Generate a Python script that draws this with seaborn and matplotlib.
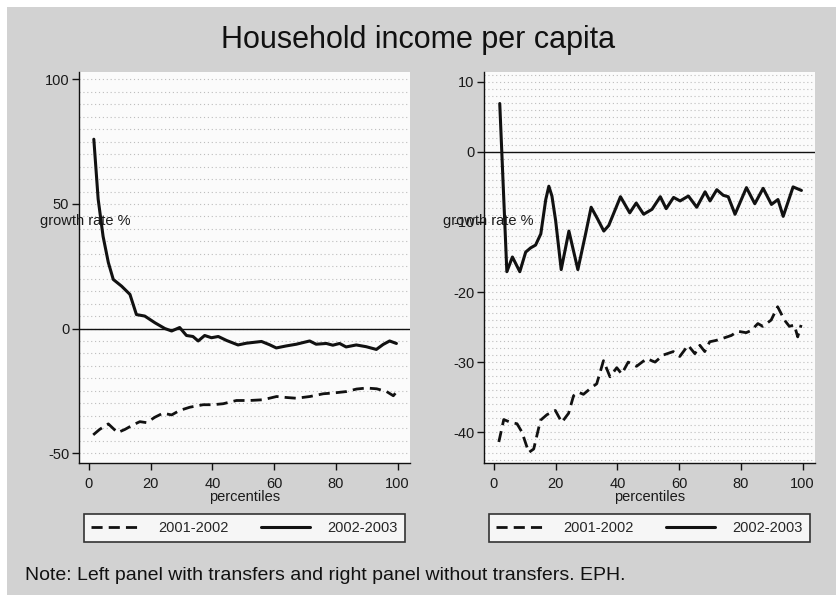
import numpy as np
import pandas as pd
import matplotlib
matplotlib.use("Agg")
import matplotlib.pyplot as plt
from matplotlib.patches import Rectangle
from matplotlib.lines import Line2D
from matplotlib.ticker import MultipleLocator
import seaborn as sns

sns.set_theme(style="white")
plt.rcParams["font.family"] = ["Liberation Sans", "DejaVu Sans"]
plt.rcParams["axes.unicode_minus"] = False

# ---------------- data ----------------
title = "Household income per capita"
series_names = ["2001-2002", "2002-2003"]
note = "Note: Left panel with transfers and right panel without transfers. EPH."
xlabel = "percentiles"
ylabel = "growth rate %"
x_ticks = [0, 20, 40, 60, 80, 100]
left_yticks = [-50, 0, 50, 100]
right_yticks = [-40, -30, -20, -10, 0, 10]

# Left panel (with transfers)
left_0102_x = [1.4, 3.5, 6.3, 9.3, 11.7, 14.3, 16.5, 18.7, 21.4, 24.0, 26.8, 29.4, 32.7,
               37.0, 40.2, 43.5, 47.8, 52.1, 56.4, 60.8, 64.0, 67.2, 71.6, 75.9, 79.1,
               83.5, 86.7, 89.9, 93.2, 96.4, 98.6, 100.0]
left_0102_y = [-42.7, -40.5, -38.3, -41.8, -40.5, -38.7, -37.4, -37.8, -35.6, -34.0, -34.7,
               -32.9, -31.6, -30.6, -30.6, -30.2, -28.9, -28.9, -28.6, -27.3, -27.7, -28.0,
               -27.3, -26.2, -25.9, -25.3, -24.3, -23.9, -24.2, -25.3, -27.0, -24.9]

left_0203_x = [1.6, 3.0, 4.6, 6.3, 7.9, 10.6, 13.3, 15.4, 18.1, 21.4, 24.6, 26.8, 29.4,
               31.6, 33.7, 35.4, 37.5, 39.7, 41.9, 44.6, 48.3, 51.0, 55.9, 58.5, 60.7,
               63.9, 67.2, 71.5, 73.6, 76.9, 79.0, 81.2, 83.3, 86.6, 89.8, 93.1, 95.3,
               97.4, 99.6]
left_0203_y = [76.0, 52.0, 37.0, 26.5, 19.7, 17.0, 13.7, 5.6, 5.0, 2.3, 0.0, -1.0, 0.4,
               -2.8, -3.2, -5.0, -2.8, -3.7, -3.2, -4.8, -6.6, -5.9, -5.2, -6.5, -7.8,
               -7.0, -6.3, -5.0, -6.3, -6.0, -6.7, -6.0, -7.4, -6.6, -7.3, -8.4, -6.4,
               -5.0, -6.0]

# Right panel (without transfers)
right_0102_x = [1.6, 3.2, 5.4, 7.5, 9.1, 11.3, 12.9, 15.1, 17.2, 19.9, 22.0, 24.2, 25.8,
                27.4, 29.0, 31.7, 33.3, 35.5, 37.6, 39.8, 41.4, 43.5, 46.2, 49.5, 52.2,
                54.8, 58.1, 60.2, 62.9, 65.1, 66.7, 68.3, 69.9, 72.0, 74.2, 76.9, 79.0,
                81.7, 83.3, 85.5, 87.1, 89.8, 91.9, 94.1, 95.7, 97.3, 98.4, 99.5]
right_0102_y = [-41.4, -38.2, -38.6, -38.8, -40.0, -42.9, -42.4, -38.3, -37.5, -36.9,
                -38.6, -37.3, -34.8, -34.3, -34.6, -33.6, -33.1, -29.8, -32.1, -30.8,
                -31.7, -30.0, -30.6, -29.5, -30.0, -29.0, -28.5, -29.2, -27.6, -28.8,
                -27.6, -28.5, -27.1, -26.9, -26.6, -26.2, -25.6, -25.8, -25.5, -24.5,
                -24.9, -24.0, -22.1, -24.0, -24.9, -24.7, -26.4, -24.7]

right_0203_x = [1.9, 4.2, 6.0, 8.4, 10.3, 11.9, 13.5, 15.2, 16.8, 17.8, 18.8, 20.0, 21.8,
                24.3, 27.2, 29.7, 31.5, 33.5, 35.6, 37.2, 41.0, 44.0, 46.1, 48.5, 51.2,
                53.9, 55.8, 58.2, 60.3, 63.0, 65.7, 68.4, 70.0, 72.2, 74.3, 75.9, 78.1,
                81.8, 84.5, 87.2, 89.9, 92.0, 93.7, 96.9, 99.6]
right_0203_y = [6.9, -17.1, -15.0, -17.1, -14.3, -13.7, -13.3, -11.7, -6.8, -4.9, -6.3,
                -9.8, -16.8, -11.3, -16.8, -11.7, -7.9, -9.5, -11.3, -10.5, -6.4, -8.7,
                -7.3, -8.9, -8.2, -6.4, -8.1, -6.5, -7.0, -6.3, -7.9, -5.7, -7.0, -5.4,
                -6.2, -6.4, -8.9, -5.1, -7.4, -5.2, -7.5, -6.8, -9.2, -5.0, -5.5]

# ---------------- figure ----------------
W, H = 836, 595
fig = plt.figure(figsize=(W / 100, H / 100), dpi=100, facecolor="white")
fig.patches.append(Rectangle((7 / W, 0), 1 - 7 / W, 1 - 7 / H, transform=fig.transFigure,
                             facecolor="#d2d2d2", edgecolor="none", zorder=-10))

def fx(px):
    return px / W

def fy(py):
    return 1 - py / H

ax_l = fig.add_axes([fx(79), fy(463), fx(410) - fx(79), fy(72) - fy(463)])
ax_r = fig.add_axes([fx(484), fy(463), fx(815) - fx(484), fy(72) - fy(463)])

panels = [
    (ax_l, left_0102_x, left_0102_y, left_0203_x, left_0203_y, (-54, 103), left_yticks, 5),
    (ax_r, right_0102_x, right_0102_y, right_0203_x, right_0203_y, (-44.4, 11.4), right_yticks, 1),
]

for ax, x1, y1, x2, y2, ylim, yt, minor in panels:
    ax.set_facecolor("#fbfbfb")
    df1 = pd.DataFrame({"x": x1, "y": y1})
    df2 = pd.DataFrame({"x": x2, "y": y2})
    sns.lineplot(data=df1, x="x", y="y", ax=ax, color="#111111", linewidth=2.0, zorder=3)
    ax.lines[-1].set_dashes((4, 2.2))
    sns.lineplot(data=df2, x="x", y="y", ax=ax, color="#111111", linewidth=2.2, zorder=4)
    ax.lines[-1].set_solid_joinstyle("round")
    ax.axhline(0, color="#111111", linewidth=1.0, zorder=2)
    ax.set_xlim(-3.2, 104)
    ax.set_ylim(*ylim)
    ax.set_xticks(x_ticks)
    ax.set_yticks(yt)
    ax.yaxis.set_minor_locator(MultipleLocator(minor))
    ax.grid(True, which="minor", axis="y", color="#bdbdbd", linestyle=(0, (1, 2.5)), linewidth=0.8)
    ax.grid(True, which="major", axis="y", color="#bdbdbd", linestyle=(0, (1, 2.5)), linewidth=0.8)
    ax.tick_params(which="minor", length=0)
    ax.tick_params(axis="both", which="major", direction="out", length=5, width=1,
                   color="#111111", labelsize=10.5, labelcolor="#1a1a1a", pad=2,
                   left=True, bottom=True)
    ax.tick_params(axis="x", pad=5)
    for s in ["top", "right"]:
        ax.spines[s].set_visible(False)
    for s in ["left", "bottom"]:
        ax.spines[s].set_color("#111111")
        ax.spines[s].set_linewidth(1.0)
    ax.set_xlabel(xlabel, fontsize=10.5, color="#1a1a1a", labelpad=-1)
    ax.set_ylabel("")
    handles = [Line2D([], [], color="#111111", linewidth=2.0, dashes=(4, 2.2)),
               Line2D([], [], color="#111111", linewidth=2.2)]
    pos = ax.get_position()
    cx = (pos.x0 + pos.x1) / 2
    leg = fig.legend(handles, series_names, loc="center", bbox_to_anchor=(cx, fy(528)),
                     ncol=2, fontsize=10.5, handlelength=3.4, handletextpad=1.2,
                     columnspacing=2.2, borderpad=0.45, frameon=True, fancybox=False,
                     framealpha=1, facecolor="#f6f6f6", edgecolor="#333333")
    leg.get_frame().set_linewidth(1.2)

fig.text(fx(40), fy(221), ylabel, ha="left", va="center", fontsize=10.5, color="#1a1a1a")
fig.text(fx(443), fy(221), ylabel, ha="left", va="center", fontsize=10.5, color="#1a1a1a")
fig.text(fx(418), fy(40), title, ha="center", va="center", fontsize=22, color="#111111")
fig.text(fx(25), fy(576), note, ha="left", va="center", fontsize=14, color="#111111")

fig.savefig("out.png", dpi=100, facecolor=fig.get_facecolor())
